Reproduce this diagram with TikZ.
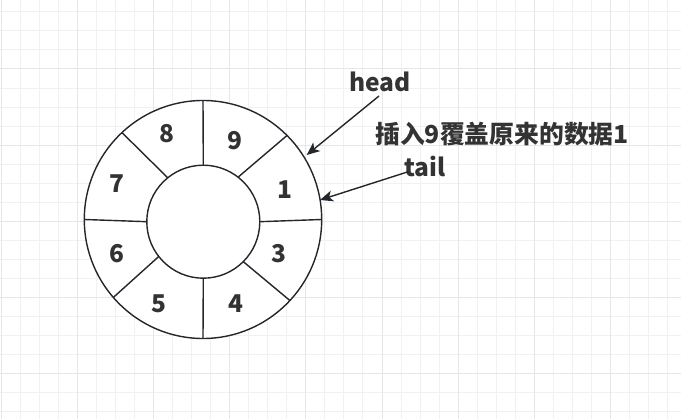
\documentclass[tikz,border=0pt]{standalone}
\usepackage{fontspec}
\setmainfont{Noto Sans CJK SC}
\usetikzlibrary{arrows.meta,shapes.geometric}
\definecolor{gridminor}{HTML}{F1F1F1}
\definecolor{gridmajor}{HTML}{E6E6E6}
\definecolor{ink}{HTML}{23262B}
\definecolor{txt}{HTML}{333333}
\tikzset{
  minorline/.style={draw=gridminor,line width=1pt},
  majorline/.style={draw=gridmajor,line width=1pt},
  ring/.style={draw=ink,line width=1.4pt,fill=white,inner sep=0pt,outer sep=0pt},
  divider/.style={draw=ink,line width=1.4pt},
  num/.style={text=txt,font=\fontsize{24.5}{28}\selectfont\bfseries,inner sep=0pt},
  lbl/.style={text=txt,font=\fontsize{24.5}{28}\selectfont\bfseries,inner sep=0pt},
  cjklbl/.style={text=txt,font=\fontsize{24.8}{28}\selectfont\bfseries,inner sep=0pt},
  pointer/.style={draw=ink,line width=1.4pt,-{Stealth[length=13pt,width=11pt,inset=3.5pt]}}
}
\begin{document}
\begin{tikzpicture}[x=1pt,y=-1pt]
\useasboundingbox (0,0) rectangle (681,419);
\fill[white] (0,0) rectangle (681,419);
% grid
\foreach \i in {0,...,36} {\draw[minorline] ({1+19.05*\i},0) -- ({1+19.05*\i},419);}
\foreach \i in {1,...,22} {\draw[minorline] (0,{-7.2+19.05*\i}) -- (681,{-7.2+19.05*\i});}
\foreach \i in {0,...,8} {\draw[majorline] ({1+76.2*\i},0) -- ({1+76.2*\i},419);}
\foreach \i in {1,...,5} {\draw[majorline] (0,{-7.2+76.2*\i}) -- (681,{-7.2+76.2*\i});}
% ring
\node[ring,ellipse,minimum width=237.4pt,minimum height=238pt] (outer) at (203,219.5) {};
\node[ring,circle,minimum size=113pt] (inner) at (203.3,221.7) {};
\draw[divider] (outer.90) -- (inner.90);
\draw[divider] (outer.45) -- (inner.52);
\draw[divider] (outer.0) -- (inner.0);
\draw[divider] (outer.-43) -- (inner.-45);
\draw[divider] (outer.-90) -- (inner.-90);
\draw[divider] (outer.221.6) -- (inner.218.5);
\draw[divider] (outer.180) -- (inner.180);
\draw[divider] (outer.133.7) -- (inner.129.5);
% numbers
\node[num] (n8) at (166.7,134) {8};
\node[num] (n9) at (235,140.7) {9};
\node[num] (n7) at (116.7,184) {7};
\node[num] (n1) at (285,190) {1};
\node[num] (n6) at (116.7,253.3) {6};
\node[num] (n3) at (279.3,253.3) {3};
\node[num] (n5) at (159.3,303.3) {5};
\node[num] (n4) at (235.7,303.3) {4};
% labels
\node[lbl] (head) at (380,82) {head};
\node[cjklbl] (note) at (502,134) {插入9覆盖原来的数据1};
\node[lbl] (tail) at (425,166) {tail};
% pointers
\coordinate (hs) at (379,96);
\coordinate (he) at (306.7,155);
\coordinate (ts) at (408.3,171.7);
\coordinate (te) at (320,200);
\draw[pointer] (hs) -- (he);
\draw[pointer] (ts) -- (te);
\end{tikzpicture}
\end{document}
